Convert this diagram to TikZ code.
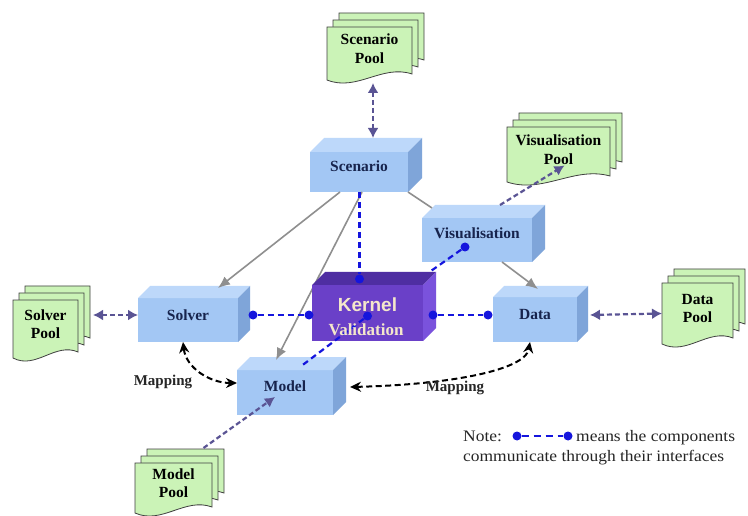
\documentclass[tikz,border=0pt]{standalone}
\usepackage{fontspec}
\setmainfont{Liberation Serif}
\newfontfamily\kernfont{Liberation Sans}
\newfontfamily\notefont[FakeStretch=1.09]{Liberation Serif}
\usetikzlibrary{arrows.meta,calc}

\definecolor{bfront}{HTML}{A3C7F4}
\definecolor{btop}{HTML}{BDD8FA}
\definecolor{bside}{HTML}{7FA5D9}
\definecolor{kfront}{HTML}{6A40C8}
\definecolor{ktop}{HTML}{4F2EA2}
\definecolor{kside}{HTML}{7A52DC}
\definecolor{poolgreen}{HTML}{CBF3B7}
\definecolor{navy}{HTML}{17244D}
\definecolor{ifblue}{HTML}{1515DD}
\definecolor{poolarrow}{HTML}{5A5494}
\definecolor{greyarrow}{HTML}{8F8F8F}
\definecolor{kerntext}{HTML}{F4E7CB}

\newcommand\mysheet[4]{%
  \pgfmathsetmacro\pw{(#3)-(#1)}%
  \filldraw[sheet] (#1,#2) -- (#3,#2) -- (#3,#4-6) .. controls ({#3-0.35*\pw},{#4-16}) and ({#1+0.35*\pw},{#4+12}) .. (#1,#4) -- cycle;}

\newcommand\mypool[6]{%
  \mysheet{#2+12}{#3-14}{#4+12}{#5-14}%
  \mysheet{#2+6}{#3-7}{#4+6}{#5-7}%
  \mysheet{#2}{#3}{#4}{#5}%
  \node[poolbox, minimum width={(#4)-(#2)}, minimum height={(#5)-(#3)}] (#1) at ({((#2)+(#4))/2},{((#3)+(#5))/2}) {};%
  \node[pooltext] (#1-t) at ([yshift=5pt]#1.center) {#6};}

\newcommand\mycube[7]{%
  \node[cubeface, fill=#7front, minimum width=#4, minimum height=#5] (#1) at (#2,#3) {};%
  \fill[#7top] (#1.north west) -- ++(#6,-#6) -- ([shift={(#6,-#6)}]#1.north east) -- (#1.north east) -- cycle;%
  \fill[#7side] (#1.north east) -- ++(#6,-#6) -- ([shift={(#6,-#6)}]#1.south east) -- (#1.south east) -- cycle;}

\begin{document}
\begin{tikzpicture}[x=1pt,y=-1pt,
  cubeface/.style={rectangle, inner sep=0, outer sep=0, draw=none},
  lbl/.style={font=\fontsize{15.5}{18}\selectfont\bfseries, text=navy, align=center, inner sep=0},
  maplbl/.style={font=\fontsize{15}{18}\selectfont\bfseries, text=black!85, inner sep=0},
  poolbox/.style={rectangle, inner sep=0, outer sep=0, draw=none},
  pooltext/.style={font=\fontsize{15.5}{18.5}\selectfont\bfseries, text=black, align=center, inner sep=0},
  sheet/.style={fill=poolgreen, draw=black!75, line width=0.8pt},
  iface/.style={draw=ifblue, line width=2.2pt, dash pattern=on 6pt off 4pt},
  dot/.style={circle, fill=ifblue, inner sep=0, minimum size=9pt},
  poolboth/.style={draw=poolarrow, line width=2.2pt, dash pattern=on 5pt off 3pt, {Latex[length=10pt,width=11pt]}-{Latex[length=10pt,width=11pt]}},
  poolone/.style={draw=poolarrow, line width=2.2pt, dash pattern=on 5pt off 3pt, -{Latex[length=10pt,width=11pt]}},
  greyarr/.style={draw=greyarrow, line width=1.6pt, -{Latex[length=12pt,width=10pt]}},
  greyline/.style={draw=greyarrow, line width=1.6pt},
  mapping/.style={draw=black, line width=2pt, dash pattern=on 6pt off 3.5pt, {Stealth[length=11pt,width=10pt]}-{Stealth[length=11pt,width=10pt]}},
  notetext/.style={font=\notefont\fontsize{16}{20}\selectfont, text=black!85, inner sep=0, anchor=base west}
]
\useasboundingbox (0,0) rectangle (748,516);
\fill[white] (0,0) rectangle (748,516);

% pools
\mypool{sp}{327}{27}{412}{80}{Scenario\\Pool}
\mypool{vp}{507}{127}{610}{182}{Visualisation\\Pool}
\mypool{slp}{13}{300}{78}{358}{Solver\\Pool}
\mypool{dp}{662}{283}{733}{344}{Data\\Pool}
\mypool{mp}{135}{463}{212}{513}{Model\\Pool}

% blue cubes
\mycube{scen}{359}{172}{98}{40}{14}{b}
\mycube{vis}{477}{240}{110}{44}{13}{b}
\mycube{solver}{188}{320}{100}{44}{12}{b}
\mycube{data}{535}{319.5}{84}{45}{11}{b}
\mycube{model}{285}{392.5}{96}{45}{13}{b}

\node[lbl] (scen-l) at ([yshift=6pt]scen.center) {Scenario};
\node[lbl] (vis-l) at ([yshift=7pt]vis.center) {Visualisation};
\node[lbl] (solver-l) at ([yshift=5pt]solver.center) {Solver};
\node[lbl] (data-l) at ([yshift=5pt]data.center) {Data};
\node[lbl] (model-l) at ([yshift=6pt]model.center) {Model};

% grey dependency arrows
\draw[greyarr] ([xshift=-19pt]scen.south) -- ([xshift=30pt,yshift=10pt]solver.north);
\draw[greyarr] ([xshift=3pt]scen.south) -- ([xshift=-9pt,yshift=10pt]model.north);
\draw[greyline] (scen.south east) -- ([xshift=10pt,yshift=10pt]vis.north west);
\draw[greyarr] ([xshift=25pt]vis.south) -- ([xshift=3pt,yshift=8pt]data.north);

% kernel
\mycube{kern}{367.5}{313}{111}{56}{13}{k}

% interface connectors
\node[dot] (d-scen) at ([xshift=-8pt,yshift=6pt]kern.north) {};
\draw[iface] (scen.south -| d-scen) -- (d-scen);
\node[dot] (d-sol) at ([xshift=15pt,yshift=5pt]solver.east) {};
\node[dot] (d-kl) at ([xshift=-3pt,yshift=-2pt]kern.west) {};
\draw[iface] (d-sol) -- (d-kl);
\node[dot] (d-kr) at ([xshift=10pt,yshift=-2pt]kern.east) {};
\node[dot] (d-data) at ([xshift=-5pt,yshift=4.5pt]data.west) {};
\draw[iface] (d-kr) -- (d-data);
\coordinate (k-entry) at ([xshift=62pt,yshift=41pt]kern.center);
\node[dot] (d-vis) at ([xshift=-12pt,yshift=-7pt]vis.center) {};
\draw[iface] (d-vis) -- (k-entry);
\node[dot] (d-kc) at ([yshift=-3pt]kern.center) {};
\coordinate (m-top) at ([xshift=15pt,yshift=3pt]model.north);
\draw[iface] (d-kc) -- (m-top);

\node[font=\kernfont\bfseries\fontsize{19}{22}\selectfont, text=kerntext, inner sep=0] (kern-k) at ([yshift=8pt]kern.center) {Kernel};
\node[font=\bfseries\fontsize{17}{20}\selectfont, text=kerntext, inner sep=0] (kern-v) at ([xshift=-1.5pt,yshift=-17pt]kern.center) {Validation};

% pool arrows
\coordinate (scen-tb) at ([xshift=14pt,yshift=14pt]scen.north);
\draw[poolboth, shorten <=3pt] (sp.south -| scen-tb) -- (scen-tb);
\coordinate (slp-a) at ([xshift=15pt,yshift=14pt]slp.east);
\draw[poolboth] (slp-a) -- ([yshift=5pt]solver.west);
\draw[poolboth] ([xshift=13pt,yshift=4.5pt]data.east) -- (dp.west);
\draw[poolone] ([xshift=23pt,yshift=13pt]vis.north) -- ([xshift=6pt,yshift=-11pt]vp.center);
\draw[poolone] ([xshift=30pt,yshift=15pt]mp.north) -- ([xshift=-10pt,yshift=-4.5pt]model.center);

% mappings
\draw[mapping] ([xshift=-5pt]solver.south) .. controls (186,368) and (210,383) .. ([yshift=9.5pt]model.west);
\draw[mapping] ([xshift=17pt,yshift=5.5pt]model.east) .. controls (440,385) and (525,372) .. ([xshift=-5pt]data.south);
\node[maplbl] (map1) at (163,382) {Mapping};
\node[maplbl] (map2) at (455,388) {Mapping};

% note
\node[notetext] (note1) at (463,441) {Note:};
\node[dot] (nd1) at (517,436) {};
\node[dot] (nd2) at (568,436) {};
\draw[iface, dash pattern=on 7pt off 5pt] (nd1) -- (nd2);
\node[notetext] (note2) at (576,441) {means the components};
\node[notetext] (note3) at (463,461) {communicate through their interfaces};
\end{tikzpicture}
\end{document}
